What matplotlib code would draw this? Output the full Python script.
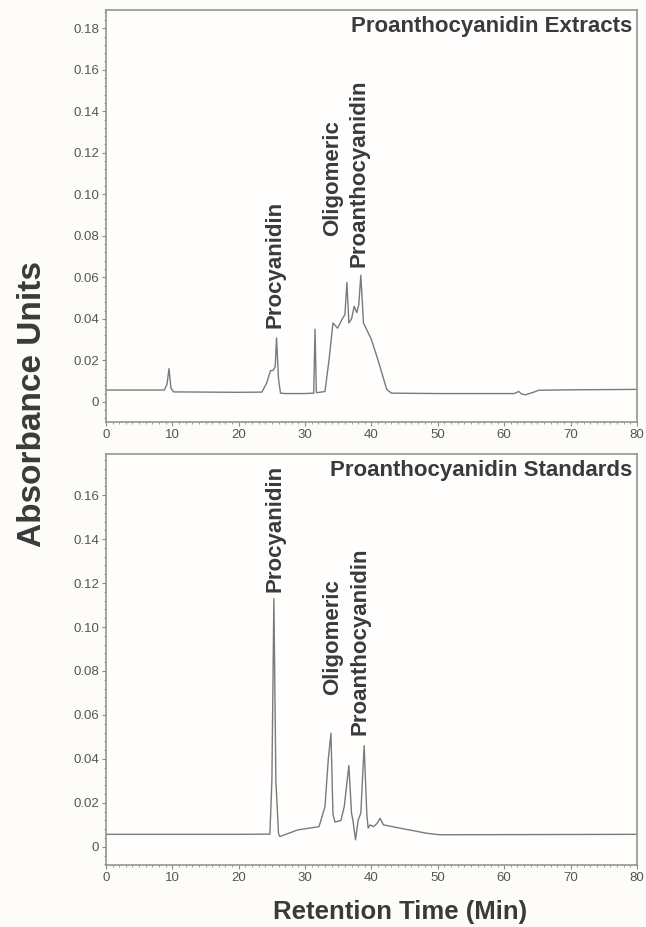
import matplotlib.pyplot as plt
from matplotlib.ticker import MultipleLocator

# Proanthocyanidin extracts (top panel)
extract_time = [0, 8.8, 9.2, 9.5, 9.8, 10.2, 15, 20, 23.5, 24.2, 24.8, 25.2,
                25.5, 25.7, 26.0, 26.3, 27, 30, 31.3, 31.5, 31.7, 32.0, 33.0,
                33.6, 34.2, 34.9, 35.6, 36.0, 36.3, 36.6, 37.0, 37.4, 37.8,
                38.1, 38.4, 38.8, 40.0, 41.0, 42.3, 43.0, 50, 61.5, 62.2,
                62.6, 63.2, 64.3, 65.2, 70, 80]
extract_abs = [0.0057, 0.0057, 0.0085, 0.0160, 0.0065, 0.0048, 0.0047, 0.0046,
               0.0047, 0.0090, 0.0150, 0.0152, 0.0170, 0.0308, 0.0110, 0.0042,
               0.0040, 0.0040, 0.0042, 0.0350, 0.0045, 0.0045, 0.0050, 0.0200,
               0.0380, 0.0355, 0.0400, 0.0420, 0.0575, 0.0380, 0.0400, 0.0460,
               0.0430, 0.0470, 0.0610, 0.0380, 0.0300, 0.0200, 0.0060, 0.0042,
               0.0040, 0.0040, 0.0050, 0.0038, 0.0034, 0.0045, 0.0056, 0.0058,
               0.0060]

# Proanthocyanidin standards (bottom panel)
standard_time = [0, 20, 24.7, 25.0, 25.3, 25.6, 26.0, 26.2, 28.9, 32.1, 33.0,
                 33.5, 33.9, 34.2, 34.5, 35.4, 35.9, 36.6, 37.0, 37.2, 37.6,
                 38.0, 38.4, 38.9, 39.3, 39.5, 39.8, 40.3, 40.8, 41.3, 41.8,
                 44.3, 48.3, 50.3, 80]
standard_abs = [0.0057, 0.0057, 0.0058, 0.0300, 0.1130, 0.0300, 0.0060, 0.0047,
                0.0077, 0.0092, 0.0183, 0.0400, 0.0517, 0.0150, 0.0113, 0.0120,
                0.0183, 0.0370, 0.0153, 0.0122, 0.0032, 0.0122, 0.0153, 0.0460,
                0.0150, 0.0085, 0.0100, 0.0092, 0.0105, 0.0130, 0.0100, 0.0085,
                0.0062, 0.0055, 0.0057]

panel_titles = ["Proanthocyanidin Extracts", "Proanthocyanidin Standards"]
# (label, x in min, y at bottom of text)
extract_labels = [("Procyanidin", 25.4, 0.0356),
                  ("Oligomeric", 34.1, 0.080),
                  ("Proanthocyanidin", 38.1, 0.065)]
standard_labels = [("Procyanidin", 25.4, 0.116),
                   ("Oligomeric", 34.1, 0.069),
                   ("Proanthocyanidin", 38.2, 0.051)]

BG = "#fdfcf9"
LINE = "#7a7a7a"
SPINE = "#8c8c8c"
TXT = "#3a3a3a"
FONT = ["Liberation Sans", "DejaVu Sans"]

plt.rcParams["font.family"] = FONT

fig = plt.figure(figsize=(6.46, 9.27), dpi=100, facecolor=BG)
ax1 = fig.add_axes([0.164, 0.545, 0.822, 0.444])
ax2 = fig.add_axes([0.164, 0.067, 0.822, 0.443])

panels = [
    (ax1, extract_time, extract_abs, extract_labels, (-0.0096, 0.1887)),
    (ax2, standard_time, standard_abs, standard_labels, (-0.0082, 0.1786)),
]

for (ax, t, a, labels, ylim), title in zip(panels, panel_titles):
    ax.set_facecolor("#fffefc")
    ax.plot(t, a, color=LINE, lw=1.0)
    ax.set_xlim(0, 80)
    ax.set_ylim(*ylim)
    ax.xaxis.set_major_locator(MultipleLocator(10))
    ax.xaxis.set_minor_locator(MultipleLocator(1))
    ax.yaxis.set_major_locator(MultipleLocator(0.02))
    ax.yaxis.set_minor_locator(MultipleLocator(0.004))
    ax.set_yticks([v / 100 for v in range(0, 19, 2) if v / 100 < ylim[1] - 0.004])
    ax.set_yticklabels(["0" if v == 0 else f"{v:.2f}" for v in ax.get_yticks()])
    ax.tick_params(which="major", length=3, width=0.8, color=SPINE,
                   labelsize=9.5, labelcolor="#555555", pad=2)
    ax.tick_params(which="minor", length=1.5, width=0.6, color=SPINE)
    for s in ax.spines.values():
        s.set_color(SPINE)
        s.set_linewidth(1.1)
    ax.text(0.992, 0.985, title, transform=ax.transAxes, ha="right", va="top",
            fontsize=16, fontweight="bold", color=TXT)
    for txt, x, y in labels:
        ax.text(x, y, txt, rotation=90, ha="center", va="bottom",
                fontsize=16, fontweight="bold", color=TXT)

fig.text(0.05, 0.564, "Absorbance Units", rotation=90, ha="center",
         va="center", fontsize=24, fontweight="bold", color=TXT)
fig.text(0.62, 0.016, "Retention Time (Min)", ha="center", va="center",
         fontsize=18.5, fontweight="bold", color=TXT)

fig.savefig("out.png", dpi=100, facecolor=BG)
